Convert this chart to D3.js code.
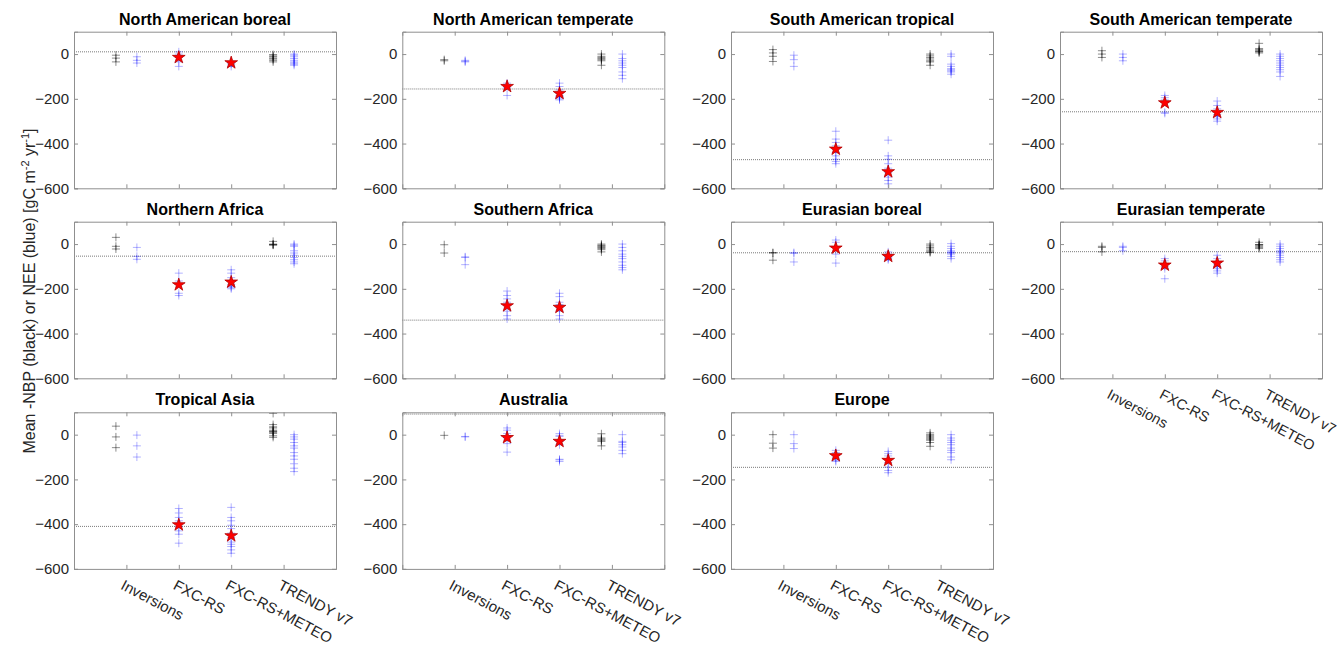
<!DOCTYPE html>
<html>
<head>
<meta charset="utf-8">
<script src="https://cdn.jsdelivr.net/npm/d3@7"></script>
<style>
  html, body { margin: 0; padding: 0; background: #fff; }
  svg { display: block; font-family: "Liberation Sans", Arial, Helvetica, sans-serif; }
</style>
</head>
<body>
<svg id="chart" width="1337" height="646"></svg>
<script>
// ---------------- data ----------------
const regions = ["North American boreal", "North American temperate", "South American tropical", "South American temperate",
  "Northern Africa", "Southern Africa", "Eurasian boreal", "Eurasian temperate",
  "Tropical Asia", "Australia", "Europe"];
const categories = ["Inversions", "FXC-RS", "FXC-RS+METEO", "TRENDY v7"];
const yTicks = [0, -200, -400, -600];

// reference (dotted) line per region
const refLine = [10, -156, -472, -258, -54, -340, -39, -34, -410, 92, -146];
// red stars: FXC-RS and FXC-RS+METEO
const starFXC   = [-15, -145, -425, -218, -182, -276, -18, -94, -403, -13, -94];
const starMETEO = [-39, -176, -526, -261, -170, -283, -55, -85, -452, -30, -115];

// Inversions, -NBP (black)
const invBlack = [
  [-5, -18, -35], [-25, -30], [20, 5, -10, -33], [15, 0, -15],
  [30, -10, -22], [-3, -40], [-38, -40, -72], [-10, -15, -35],
  [38, -10, -58], [-3], [0, -38, -60]
];
// Inversions, NEE (blue)
const invBlue = [
  [-12, -28, -40], [-28, -32, -35], [-5, -25, -55], [0, -15, -30],
  [-15, -55, -68], [-57, -60, -92], [-38, -42, -80], [-10, -15, -30],
  [-2, -50, -100], [-8, -10], [0, -40, -62]
];
// FXC-RS ensemble NEE (blue)
const fxcBlue = [
  [10, 0, -15, -35, -55], [-130, -140, -150, -185],
  [-345, -380, -395, -410, -425, -440, -455, -470, -480, -490],
  [-185, -195, -205, -215, -260, -265],
  [-130, -165, -180, -220, -230],
  [-210, -230, -245, -260, -275, -300, -320, -335],
  [18, 8, -15, -45, -85],
  [-65, -75, -90, -100, -110, -155],
  [-330, -350, -370, -385, -395, -410, -430, -445, -485],
  [30, 20, 5, -5, -15, -40, -78],
  [-70, -80, -95, -105, -115, -120]
];
// FXC-RS+METEO ensemble NEE (blue)
const meteoBlue = [
  [-35, -40, -45, -55],
  [-130, -145, -160, -175, -185, -190, -195, -200, -205],
  [-385, -455, -470, -490, -510, -530, -550, -565, -580],
  [-210, -230, -245, -260, -270, -280, -290, -300],
  [-115, -130, -150, -165, -180, -190, -195, -200],
  [-220, -235, -260, -270, -285, -300, -320, -335],
  [-35, -45, -55, -60, -65, -70],
  [-50, -65, -80, -90, -100, -110, -120, -130],
  [-325, -370, -385, -405, -420, -440, -460, -480, -490, -500, -515, -530],
  [5, -3, -8, -30, -45, -110, -113, -120],
  [-75, -85, -95, -110, -125, -145, -160, -170]
];
// TRENDY v7 -NBP (black)
const trendyBlack = [
  [-2, -8, -12, -18, -22, -28, -35],
  [0, -10, -15, -20, -25, -30, -50],
  [0, -8, -15, -22, -30, -35, -50],
  [48, 25, 20, 15, 12, 10, 5],
  [12, 0, -2, -3, -5],
  [0, -5, -8, -12, -15, -20, -25, -35],
  [0, -8, -15, -22, -30, -35, -38],
  [8, -2, -3, -5, -10, -15, -20],
  [95, 45, 35, 30, 20, 15, 15, 10, 5, -5, -12],
  [4, -15, -20, -25, -30, -50],
  [8, 0, -5, -10, -15, -20, -25, -35, -52]
];
// TRENDY v7 NEE (blue)
const trendyBlue = [
  [0, -5, -12, -20, -28, -35, -40, -45, -50],
  [0, -20, -30, -40, -50, -60, -80, -95, -110],
  [0, -10, -45, -55, -65, -70, -75, -80, -90],
  [0, -10, -20, -30, -40, -50, -60, -70, -80, -100],
  [0, -5, -10, -30, -40, -50, -60, -70, -80, -88],
  [0, -15, -30, -45, -55, -65, -80, -95, -105, -115],
  [2, -10, -20, -30, -35, -38, -40, -45, -55, -65],
  [0, -10, -20, -30, -35, -40, -50, -60, -70, -80],
  [0, -10, -20, -35, -50, -60, -80, -95, -110, -130, -150, -165],
  [0, -30, -35, -45, -55, -70, -85],
  [0, -15, -25, -35, -45, -60, -70, -80, -100, -112]
];

// ---------------- layout ----------------
const svg = d3.select("#chart");
const colLeft = [74, 402.3, 731, 1060];
const rowTop = [31.7, 221.7, 412.3];
const pw = 262, ph = 156.6;
const boxColor = "#8f8f8f";
const textColor = "#262626";

const seriesSpec = [
  { x: 0.8, data: invBlack,   color: "rgba(0,0,0,0.45)" },
  { x: 3.8, data: trendyBlack, color: "rgba(0,0,0,0.45)" },
  { x: 1.2, data: invBlue,    color: "rgba(0,0,255,0.3)" },
  { x: 2,   data: fxcBlue,    color: "rgba(0,0,255,0.3)" },
  { x: 3,   data: meteoBlue,  color: "rgba(0,0,255,0.3)" },
  { x: 4.2, data: trendyBlue, color: "rgba(0,0,255,0.3)" }
];

const plusPath = "M-4,0H4M0,-4V4";
const star = d3.symbol().type(d3.symbolStar).size(50);

regions.forEach((name, i) => {
  const r = Math.floor(i / 4), c = i % 4;
  const left = colLeft[c], top = rowTop[r];
  const x = d3.scaleLinear().domain([0, 5]).range([left, left + pw]);
  const y = d3.scaleLinear().domain([-600, 100]).range([top + ph, top]);
  const g = svg.append("g");

  const clipId = "clip" + i;
  svg.append("clipPath").attr("id", clipId).append("rect")
    .attr("x", left).attr("y", top).attr("width", pw).attr("height", ph);

  g.append("text")
    .attr("x", left + pw / 2).attr("y", top - 7)
    .attr("text-anchor", "middle")
    .attr("font-size", 16).attr("font-weight", "bold").attr("fill", "#000")
    .text(name);

  g.append("line")
    .attr("x1", left).attr("x2", left + pw)
    .attr("y1", y(refLine[i])).attr("y2", y(refLine[i]))
    .attr("stroke", "#7a7a7a").attr("stroke-width", 1)
    .attr("stroke-dasharray", "1,1");

  const mg = g.append("g").attr("clip-path", `url(#${clipId})`);
  seriesSpec.forEach(s => {
    mg.selectAll(null).data(s.data[i]).enter().append("path")
      .attr("d", plusPath)
      .attr("transform", d => `translate(${x(s.x)},${y(d)})`)
      .attr("stroke", s.color).attr("stroke-width", 1).attr("fill", "none");
  });
  [[2, starFXC[i]], [3, starMETEO[i]]].forEach(([xv, yv]) => {
    mg.append("path").attr("d", star)
      .attr("transform", `translate(${x(xv)},${y(yv)})`)
      .attr("fill", "#ff0000").attr("stroke", "#b00000").attr("stroke-width", 0.8);
  });

  const yAxisL = d3.axisLeft(y).tickValues(yTicks).tickSize(-4).tickPadding(5).tickFormat(d3.format("d"));
  const yAxisR = d3.axisRight(y).tickValues(yTicks).tickSize(-4).tickFormat("");
  const xAxisB = d3.axisBottom(x).tickValues([1, 2, 3, 4]).tickSize(-4).tickFormat("");
  const xAxisT = d3.axisTop(x).tickValues([1, 2, 3, 4]).tickSize(-4).tickFormat("");

  const gl = g.append("g").attr("transform", `translate(${left},0)`).call(yAxisL);
  const gr = g.append("g").attr("transform", `translate(${left + pw},0)`).call(yAxisR);
  const gb = g.append("g").attr("transform", `translate(0,${top + ph})`).call(xAxisB);
  const gt = g.append("g").attr("transform", `translate(0,${top})`).call(xAxisT);
  [gl, gr, gb, gt].forEach(a => {
    a.select(".domain").attr("stroke", boxColor);
    a.selectAll(".tick line").attr("stroke", boxColor);
  });
  gl.selectAll(".tick text").attr("font-size", 15).attr("fill", textColor)
    .attr("font-family", "'Liberation Sans', Arial, sans-serif");

  if (r === 2 || i === 7) {
    categories.forEach((lab, k) => {
      const tx = x(k + 1) - 1.5, ty = top + ph + 10;
      g.append("text")
        .attr("transform", `translate(${tx},${ty}) rotate(28)`)
        .attr("text-anchor", "start").attr("dy", "0.72em")
        .attr("font-size", i === 7 ? 14.5 : 15).attr("fill", textColor)
        .text(lab);
    });
  }
});

// y axis label
const yl = svg.append("text")
  .attr("transform", "translate(35,291) rotate(-90)")
  .attr("text-anchor", "middle")
  .attr("font-size", 16).attr("fill", textColor);
yl.append("tspan").text("Mean -NBP (black) or NEE (blue) [gC m");
yl.append("tspan").attr("font-size", 11).attr("baseline-shift", "super").text("-2");
yl.append("tspan").text(" yr");
yl.append("tspan").attr("font-size", 11).attr("baseline-shift", "super").text("-1");
yl.append("tspan").text("]");
</script>
</body>
</html>
